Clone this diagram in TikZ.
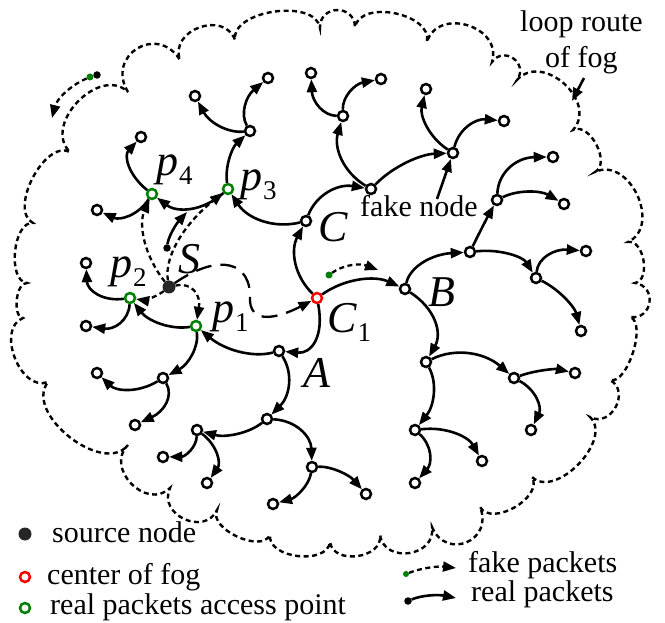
\documentclass[tikz,border=0pt]{standalone}
\usepackage{fontspec}
\setmainfont{Liberation Serif}
\usetikzlibrary{arrows.meta,calc}
\definecolor{fgreen}{RGB}{0,128,0}
\tikzset{
  nd/.style={circle,draw,line width=2.5pt,minimum size=10pt,inner sep=0pt,fill=white},
  gnd/.style={nd,draw=fgreen},
  rnd/.style={nd,draw=red},
  real/.style={line width=2.6pt,-{Triangle[length=13pt,width=10pt]}},
  fake/.style={line width=2.3pt,dash pattern=on 5pt off 3.5pt,-{Triangle[length=13pt,width=10pt]}},
  bigdash/.style={line width=2.3pt,dash pattern=on 16pt off 9pt,-{Triangle[length=13pt,width=10pt]}},
  cloudline/.style={line width=2.4pt,dash pattern=on 5pt off 3.5pt},
  lobe/.style={bend left=90,looseness=#1},
  txt/.style={font=\fontsize{30}{34}\selectfont,inner sep=0pt,anchor=base west},
  mlab/.style={inner sep=0pt,anchor=base west,font=\fontsize{44}{48}\selectfont\itshape},
  sdot/.style={circle,fill=black!85,minimum size=13pt,inner sep=0pt},
  pdot/.style={circle,fill=black,minimum size=7.5pt,inner sep=0pt},
  gdot/.style={circle,fill=fgreen,minimum size=7pt,inner sep=0pt},
}
\newcommand\plbl[2]{#1\kern1pt\raisebox{-9pt}{\fontsize{27}{28}\selectfont\upshape #2}}
\newcommand\cedge[5][real]{%
  \coordinate (qq) at ($2*(#4,#5)-0.5*(#2)-0.5*(#3)$);
  \draw[#1] (#2) .. controls ($(#2)!0.6667!(qq)$) and ($(#3)!0.6667!(qq)$) .. (#3);
}
\begin{document}
\begin{tikzpicture}[x=1pt,y=-1pt]
\useasboundingbox (0,0) rectangle (665,623);
% cloud
\draw[cloudline] (128,92) to[lobe=1.8] (180,60) to[lobe=1.4] (235,40) to[lobe=0.9] (320,28)
  to[lobe=1.7] (355,27) to[lobe=1.0] (427,42) to[lobe=1.4] (492,62) to[lobe=1.7] (517,80)
  to[lobe=1.3] (573,130) to[lobe=1.0] (595,172) to[lobe=1.25] (628,242) to[lobe=1.0] (635,283)
  to[lobe=1.7] (630,317) to[lobe=0.7] (610,380) to[lobe=1.45] (590,417) to[lobe=1.0] (532,477)
  to[lobe=1.0] (480,507) to[lobe=1.8] (432,527) to[lobe=1.45] (380,535) to[lobe=1.2] (330,542)
  to[lobe=1.0] (270,535) to[lobe=0.9] (217,510) to[lobe=1.45] (170,488) to[lobe=1.4] (128,445)
  to[lobe=1.0] (48,382) to[lobe=1.1] (23,318) to[lobe=0.8] (27,283) to[lobe=0.85] (33,223)
  to[lobe=0.9] (70,152) to[lobe=1.2] (128,92);
% nodes
\node[nd] (n1) at (195,96) {};
\node[nd] (n2) at (268,78) {};
\node[nd] (n3) at (311,73) {};
\node[nd] (n4) at (250,131) {};
\node[nd] (n5) at (141,137) {};
\node[nd] (n6) at (97,210) {};
\node[nd] (C) at (306,221) {};
\node[nd] (n8) at (86,263) {};
\node[nd] (n9) at (86,326) {};
\node[nd] (A) at (279,351) {};
\node[nd] (n11) at (97,373) {};
\node[nd] (n12) at (163,378) {};
\node[nd] (n13) at (135,425) {};
\node[nd] (n14) at (267,419) {};
\node[nd] (n15) at (197,430) {};
\node[nd] (n16) at (163,457) {};
\node[nd] (n17) at (207,483) {};
\node[nd] (n18) at (312,467) {};
\node[nd] (n19) at (273,504) {};
\node[nd] (n20) at (366,494) {};
\node[nd] (n21) at (381,79) {};
\node[nd] (n22) at (343,116) {};
\node[nd] (n23) at (426,89) {};
\node[nd] (n24) at (453,153) {};
\node[nd] (n25) at (504,121) {};
\node[nd] (n26) at (371,189) {};
\node[nd] (n27) at (553,157) {};
\node[nd] (n28) at (497,200) {};
\node[nd] (n29) at (564,204) {};
\node[nd] (n30) at (470,252) {};
\node[nd] (B) at (405,289) {};
\node[nd] (n32) at (586,251) {};
\node[nd] (n33) at (536,278) {};
\node[nd] (n34) at (581,331) {};
\node[nd] (n35) at (426,362) {};
\node[nd] (n36) at (514,378) {};
\node[nd] (n37) at (575,373) {};
\node[nd] (n38) at (531,430) {};
\node[nd] (n39) at (415,430) {};
\node[nd] (n40) at (482,461) {};
\node[nd] (n41) at (415,483) {};
\node[gnd] (p4) at (152,194) {};
\node[gnd] (p3) at (228,189) {};
\node[gnd] (p2) at (130,298) {};
\node[gnd] (p1) at (196,326) {};
\node[rnd] (C1) at (317,298) {};
\node[sdot] (S) at (169,287) {};
\node[pdot] (b1) at (167,248) {};
\coordinate (t2) at (187,212);
\node[gdot] (g1) at (329,275) {};
\coordinate (t1) at (378,270);
\node[gdot] (g0) at (90,77) {};
\node[pdot] (b0) at (97,75) {};
\coordinate (t0) at (52,118);
% real edges
\cedge{C1}{C}{297}{262}
\cedge{C1}{B}{360}{281}
\cedge{C1}{A}{313}{340}
\cedge{A}{p1}{238}{350}
\cedge{C}{p3}{262}{219}
\cedge{C}{n26}{330}{193}
\cedge{p3}{p4}{190}{207}
\cedge{p1}{p2}{160}{322}
\cedge{p4}{n5}{131}{165}
\cedge{p4}{n6}{128}{214}
\cedge{p3}{n4}{231}{158}
\cedge{n4}{n1}{219}{124}
\cedge{n4}{n2}{247}{105}
\cedge{p2}{n8}{98}{292}
\cedge{p2}{n9}{118}{322}
\cedge{p1}{n12}{190}{355}
\cedge{n12}{n11}{128}{388}
\cedge{n12}{n13}{164}{403}
\cedge{A}{n14}{287}{385}
\cedge{n14}{n15}{235}{433}
\cedge{n15}{n16}{188}{450}
\cedge{n15}{n17}{215}{455}
\cedge{n14}{n18}{300}{432}
\cedge{n18}{n19}{300}{490}
\cedge{n18}{n20}{340}{473}
\cedge{B}{n35}{433}{322}
\cedge{B}{n30}{425}{263}
\cedge{n30}{n28}{483}{226}
\cedge{n28}{n27}{512}{168}
\cedge{n28}{n29}{530}{193}
\cedge{n30}{n33}{510}{256}
\cedge{n33}{n32}{550}{256}
\cedge{n33}{n34}{565}{300}
\cedge{n35}{n36}{470}{355}
\cedge{n36}{n37}{545}{371}
\cedge{n36}{n38}{535}{400}
\cedge{n35}{n39}{432}{395}
\cedge{n39}{n40}{455}{435}
\cedge{n39}{n41}{428}{455}
\cedge{n26}{n22}{343}{158}
\cedge{n22}{n21}{352}{92}
\cedge{n22}{n3}{320}{105}
\cedge{n26}{n24}{408}{163}
\cedge{n24}{n23}{428}{125}
\cedge{n24}{n25}{470}{127}
\cedge{b1}{t2}{173}{231}
% fake edges
\cedge[fake]{S}{p4}{146}{240}
\cedge[fake]{S}{p3}{180}{240}
\cedge[fake]{S}{p2}{150}{297}
\cedge[fake]{S}{p1}{193}{293}
\cedge[fake]{g1}{t1}{352}{266}
\cedge[fake]{g0}{t0}{65}{94}
\coordinate (bd) at (250,300);
\draw[bigdash] (S) .. controls (220,252) and (252,262) .. (bd) .. controls (251,330) and (290,312) .. (C1);
% labels
\node[mlab] (lp4) at (156,176) {\plbl{p}{4}};
\node[mlab] (lp3) at (240,191) {\plbl{p}{3}};
\node[mlab] (lp2) at (110,278) {\plbl{p}{2}};
\node[mlab] (lp1) at (212,323) {\plbl{p}{1}};
\node[mlab] (lS) at (178,273) {S};
\node[mlab] (lC) at (318,242) {C};
\node[mlab] (lC1) at (327,333) {\plbl{C}{1}};
\node[mlab] (lA) at (303,387) {A};
\node[mlab] (lB) at (428,307) {B};
\node[txt] (fk) at (360,217) {fake node};
\coordinate (fk1) at (437,199);
\draw[real] (fk1) -- (n24);
\node[txt] (lr) at (520,32) {loop route};
\node[txt] (lr2) at (545,68) {of fog};
\coordinate (lra) at (584,78);
\coordinate (lrb) at (572,101);
\draw[real] (lra) -- (lrb);
% legend
\node[sdot] (ls) at (25,534) {};
\node[txt] (lst) at (52,542) {source node};
\node[rnd] (lc) at (25,577) {};
\node[txt] (lct) at (47,584) {center of fog};
\node[gnd] (lp) at (25,608) {};
\node[txt] (lpt) at (50,614) {real packets access point};
\node[gdot,minimum size=6pt] (lg) at (406,574) {};
\coordinate (lt1) at (456,568);
\cedge[fake]{lg}{lt1}{430}{568}
\node[txt] (lft) at (468,572) {fake packets};
\node[pdot] (lb) at (408,601) {};
\coordinate (lt2) at (456,598);
\cedge{lb}{lt2}{430}{596}
\node[txt] (lrt) at (471,601) {real packets};
\end{tikzpicture}
\end{document}
